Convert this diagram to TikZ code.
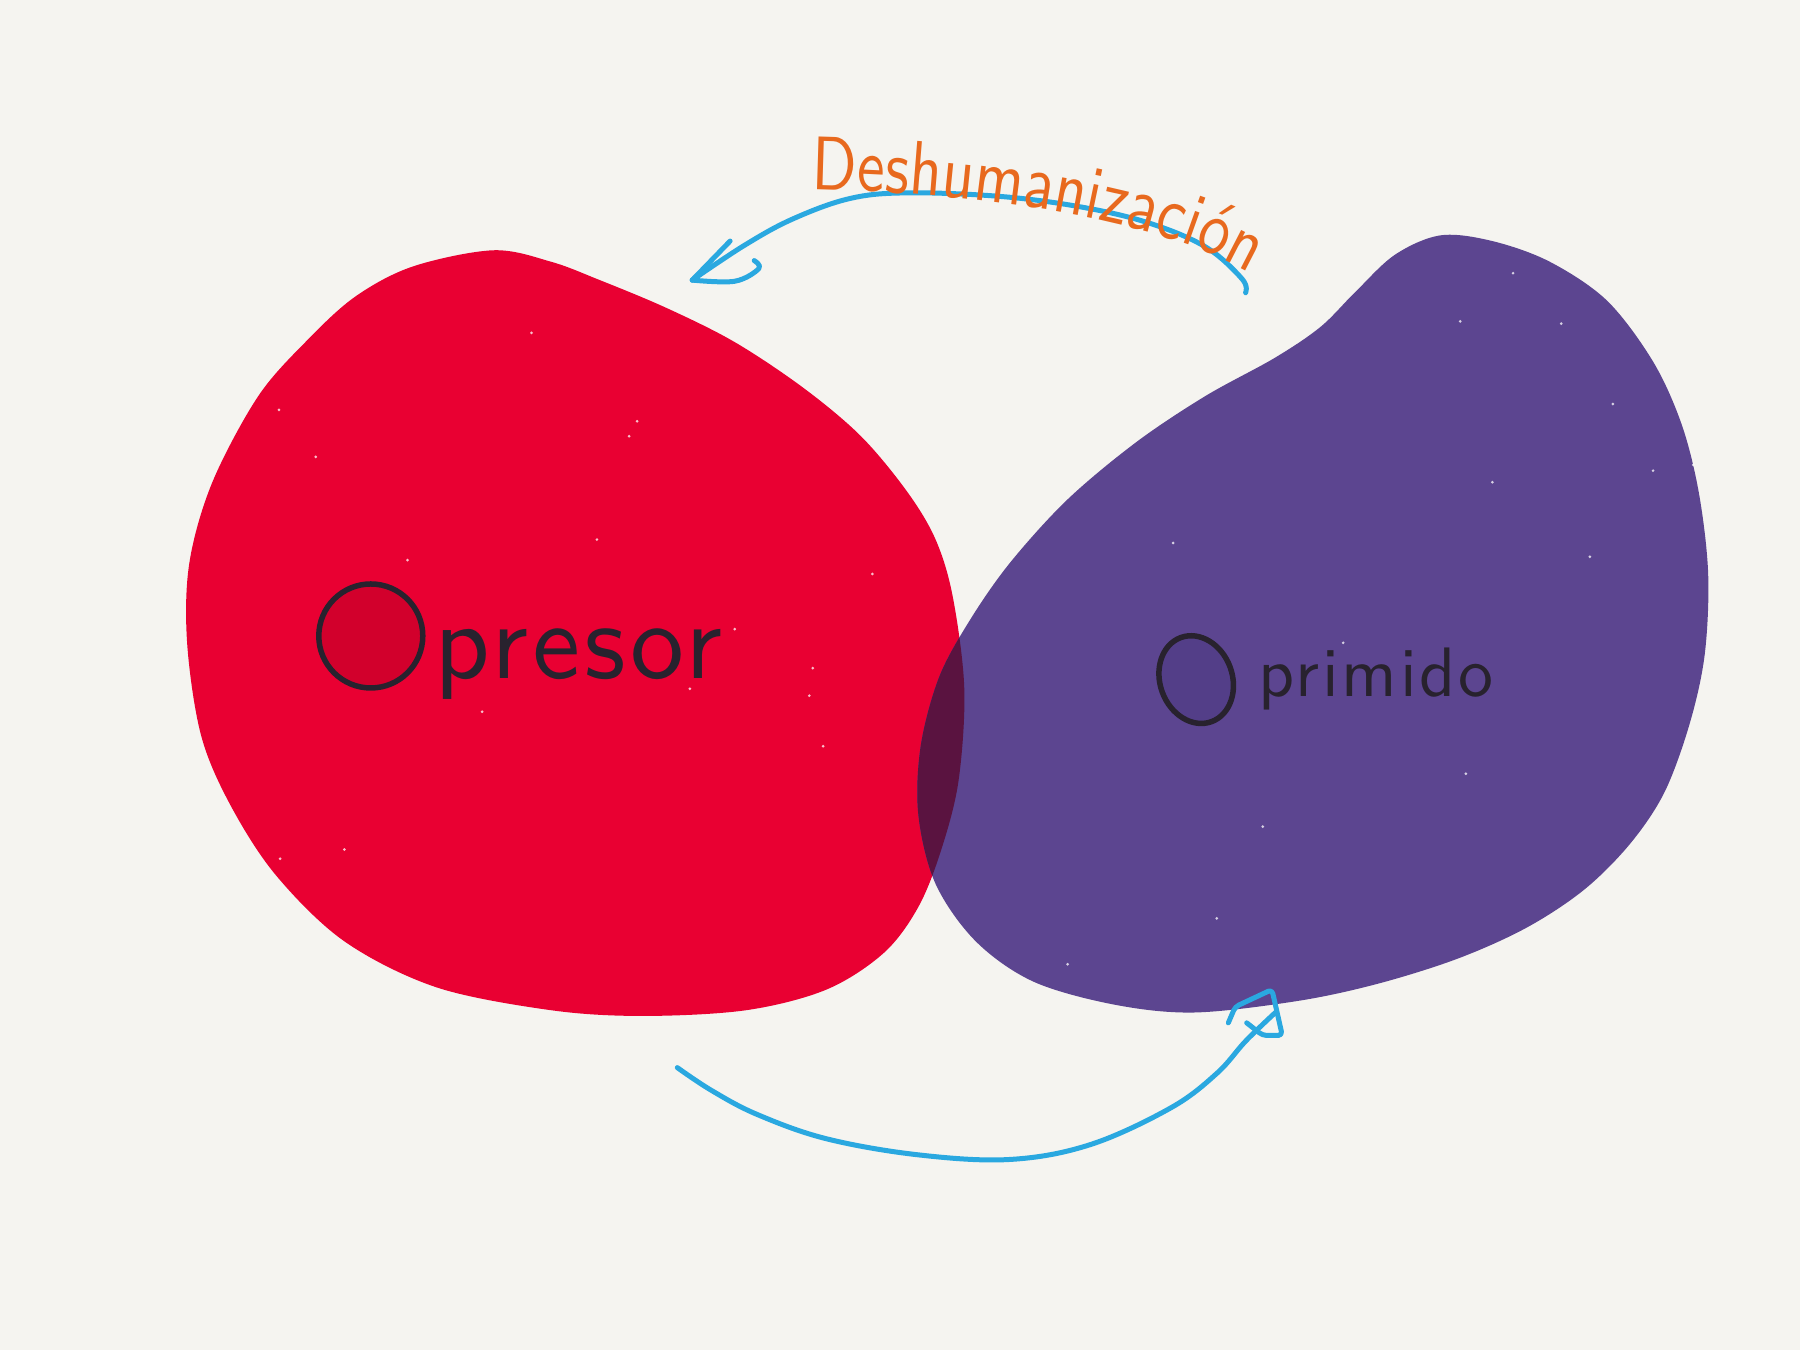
\documentclass[tikz,border=0pt]{standalone}
\usepackage{fontspec}
\usetikzlibrary{decorations.text}
\newfontfamily\spacedfont{lmsans10-regular.otf}[LetterSpace=4]
\newfontfamily\narrowfont{lmsans10-regular.otf}[FakeStretch=0.82]
\definecolor{bg}{HTML}{F5F4F0}
\definecolor{redblob}{HTML}{E90032}
\definecolor{redin}{HTML}{D2002C}
\definecolor{purpblob}{HTML}{5C4590}
\definecolor{purpin}{HTML}{533E88}
\definecolor{overlap}{HTML}{5A1340}
\definecolor{ink}{HTML}{28222E}
\definecolor{arrowblue}{HTML}{2AA8E0}
\definecolor{orangetxt}{HTML}{E8691E}
\newcommand{\redblobpath}{plot[smooth cycle, tension=0.55] coordinates {(430,218) (480,228) (520,243) (580,268) (640,298) (700,338) (750,380) (790,428) (815,470) (830,520) (840,600) (835,680) (820,740) (800,790) (770,830) (720,862) (650,880) (560,885) (480,880) (380,860) (300,820) (240,762) (200,700) (175,640) (163,560) (165,490) (185,420) (225,345) (268,296) (310,258) (360,232)}}
\newcommand{\purpblobpath}{plot[smooth cycle, tension=0.55] coordinates {(1255,205) (1300,210) (1350,228) (1400,262) (1440,315) (1465,370) (1480,430) (1488,500) (1485,570) (1472,630) (1450,690) (1420,735) (1380,775) (1330,808) (1270,835) (1200,857) (1130,872) (1040,882) (970,875) (900,855) (850,820) (815,770) (800,710) (802,650) (818,590) (845,540) (880,490) (930,435) (990,385) (1050,345) (1110,312) (1150,285) (1180,255) (1215,222)}}
\tikzset{
  handline/.style={ink, line width=5.5pt, line cap=round, line join=round},
  bluestroke/.style={arrowblue, line width=5pt, line cap=round, line join=round},
  labeltext/.style={ink, inner sep=0pt},
  speck/.style={white, opacity=0.75}
}
\begin{document}
\begin{tikzpicture}[x=1.14796pt,y=-1.14796pt]
\useasboundingbox (0,0) rectangle (1568,1176);
\fill[bg] (0,0) rectangle (1568,1176);

% blobs
\fill[redblob] \redblobpath;
\fill[purpblob] \purpblobpath;
\begin{scope}
  \clip \redblobpath;
  \fill[overlap] \purpblobpath;
\end{scope}

% specks
\foreach \p in {(243,357),(275,398),(463,290),(355,488),(548,380),(555,367),(640,548),(708,582),(705,606),(717,650),(244,748),(300,740),(420,620),(601,600),(520,470),(760,500),(1272,280),(1360,282),(1318,238),(1405,352),(1440,410),(1475,405),(1022,473),(1277,674),(1100,720),(1385,485),(1170,560),(930,840),(1300,420),(1060,800)}
  \fill[speck] \p circle (1.3);

% circles acting as the letter O
\node[circle, draw=ink, fill=redin, line width=5.5pt, minimum size=104pt, inner sep=0pt] (oOp) at (323,554) {};
\draw[handline, fill=purpin, rotate around={20:(1042,592)}] (1042,592) ellipse (31.5 and 39);
\coordinate (oOpr) at (1042,592);

% labels
\node[labeltext, anchor=base west] (presor) at (378,591) {\spacedfont\fontsize{108}{110}\selectfont presor};
\node[labeltext, anchor=base west] (primido) at (1096,607) {\spacedfont\fontsize{70}{72}\selectfont primido};

% top arrow (Deshumanizacion)
\coordinate (topTail) at (1085,255);
\coordinate (topTip) at (603,244);
\draw[bluestroke] plot[smooth, tension=0.6] coordinates {(topTail) (1082,243) (1050,215) (1000,194) (940,180) (870,171) (790,168) (740,173) (690,191) (648,214) (topTip)};
\draw[bluestroke] (topTip) -- (636,210);
\draw[bluestroke] plot[smooth, tension=0.6] coordinates {(topTip) (640,245) (661,234) (657,227)};

% text along the arc
\begin{scope}[shift={(707,165)}, y=1.14796pt]
  \path[decorate, decoration={text along path, text color=orangetxt,
      text={|\narrowfont\fontsize{76}{78}\selectfont|Deshumanización},
      text align={left indent=0pt}}]
    (0,0) .. controls (165,-3) and (322,-30) .. (396,-82);
\end{scope}

% bottom arrow
\coordinate (botTail) at (590,930);
\coordinate (botTip) at (1111,882);
\draw[bluestroke] plot[smooth, tension=0.6] coordinates {(botTail) (620,950) (660,971) (720,992) (800,1006) (880,1010) (950,997) (1020,965) (1060,935) (1085,907) (botTip)};
\draw[bluestroke, rounded corners=4pt] (1070,891) -- (1076,877) -- (1108,862) -- (1117,902) -- (1100,902) -- (1086,891);
\end{tikzpicture}
\end{document}
